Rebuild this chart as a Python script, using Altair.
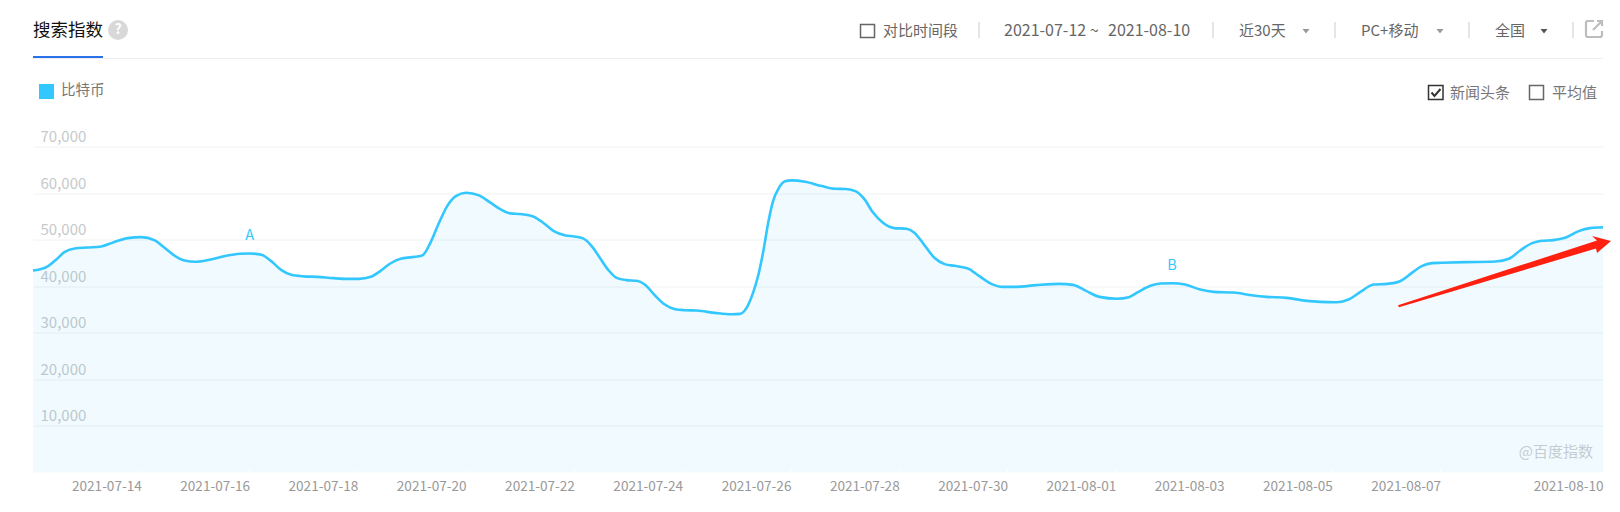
import altair as alt
import pandas as pd

# Curve: days since 2021-07-12 and the value read there
trace_days = [0, .12, .28, .43, .58, .77, 1, 1.26, 1.48, 1.75, 2, 2.25, 2.43, 2.62, 2.8, 3, 3.26, 3.57, 3.82, 4,
              4.22, 4.4, 4.59, 4.77, 5, 5.25, 5.55, 5.8, 6.02, 6.24, 6.42, 6.6, 6.79, 7, 7.19, 7.34, 7.5, 7.65, 7.81, 8,
              8.24, 8.45, 8.64, 8.82, 9, 9.25, 9.44, 9.62, 9.84, 10, 10.16, 10.32, 10.47, 10.63, 10.78, 10.96, 11.15, 11.3, 11.49, 11.67,
              11.86, 12.04, 12.26, 12.6, 12.9, 13.06, 13.18, 13.3, 13.4, 13.49, 13.58, 13.67, 13.77, 13.89, 14.01, 14.26, 14.57, 14.81, 15.01, 15.2,
              15.36, 15.51, 15.7, 15.91, 16.13, 16.28, 16.47, 16.65, 16.84, 17.02, 17.27, 17.48, 17.7, 17.91, 18.16, 18.53, 18.96, 19.21, 19.45, 19.7,
              20.02, 20.24, 20.42, 20.64, 20.82, 21.04, 21.28, 21.56, 21.81, 22.18, 22.54, 22.79, 23.16, 23.53, 23.78, 24.08, 24.3, 24.52, 24.76, 25.01,
              25.25, 25.47, 25.65, 25.84, 26.02, 26.45, 27.01, 27.26, 27.47, 27.69, 27.87, 28.08, 28.3, 28.55, 28.76, 29]
trace_values = [43380, 43590, 44300, 45740, 47320, 48100, 48320, 48540, 49400, 50330, 50540, 49830, 48250, 46530, 45520, 45240, 45670, 46530, 46960, 47030,
                46740, 45380, 43450, 42440, 42120, 42015, 41730, 41585, 41585, 42015, 43305, 44880, 45885, 46245, 46600, 49325, 53625, 57210, 59360, 60080,
                59505, 57930, 56490, 55635, 55490, 54920, 53480, 51835, 50900, 50690, 50260, 48610, 46100, 43450, 41800, 41300, 41155, 40365, 38000, 36065,
                35060, 34850, 34775, 34270, 33985, 34060, 35350, 38575, 42515, 47535, 53630, 58285, 60940, 62515, 62730, 62445, 61510, 60940, 60870, 60365,
                58645, 55920, 53630, 52480, 52340, 51480, 48755, 46100, 44740, 44380, 43810, 42160, 40510, 39865, 39865, 40225, 40510, 40295, 39005, 37715,
                37320, 37640, 38790, 40080, 40580, 40650, 40365, 39290, 38790, 38645, 38000, 37715, 37500, 36850, 36640, 36565, 37140, 38790, 40365, 40507,
                41080, 42870, 44310, 44950, 45025, 45165, 45310, 45880, 47675, 49250, 49755, 49900, 50400, 51830, 52480, 52650]
x_ticks = [2, 4, 6, 8, 10, 12, 14, 16, 18, 20, 22, 24, 26, 29]
y_ticks = [10000, 20000, 30000, 40000, 50000, 60000, 70000]
notes = ["A", "B"]
note_days = [4, 21.04]
note_values = [47030, 40650]

FONT = "Noto Sans CJK SC"
BLUE = "#33c7ff"
OX, OY = 33, 146.5  # page position of the plot's top-left corner

df = pd.DataFrame({"day": trace_days, "value": trace_values})
notes_df = pd.DataFrame({"day": note_days, "value": note_values, "note": notes})
notch_df = pd.DataFrame({"day": x_ticks[:-1]})
one = pd.DataFrame({"k": [0]})
base_ms = int(pd.Timestamp("2021-07-12", tz="UTC").timestamp() * 1000)

x_enc = alt.X(
    "day:Q",
    title=None,
    scale=alt.Scale(domain=[0, 29], nice=False, zero=False),
    axis=alt.Axis(
        values=x_ticks, labelAngle=0, labelAlign="right", labelBaseline="middle",
        labelExpr=f"utcFormat({base_ms} + datum.value * 86400000, '%Y-%m-%d')",
        labelColor="#999999", labelFontSize=13.6, labelFont=FONT, labelPadding=14,
        labelOverlap=False, labelBound=False, labelFlush=False,
        domain=False, ticks=False, grid=False,
    ),
)
y_enc = alt.Y(
    "value:Q",
    title=None,
    scale=alt.Scale(domain=[0, 70000], nice=False),
    axis=alt.Axis(
        values=y_ticks, format=",d", orient="left", labelAlign="left",
        labelBaseline="bottom", labelPadding=-7, labelOffset=-2,
        labelColor="#c6c9ca", labelFontSize=15, labelFont=FONT,
        domain=False, ticks=False, grid=True, gridColor="#f0f2f3", gridWidth=1,
    ),
)


def px(x, y):
    return {"x": alt.value(x - OX), "y": alt.value(y - OY)}


def label(s, x, y, size=14, color="#666666", align="left", weight="normal"):
    return alt.Chart(one).mark_text(
        font=FONT, fontSize=size, color=color, align=align, baseline="middle",
        fontWeight=weight,
    ).encode(text=alt.value(s), **px(x, y))


def box(x0, y0, x1, y1, fill=None, stroke=None, sw=1.5, radius=0):
    kw = dict(cornerRadius=radius)
    kw["fill"] = fill if fill else "transparent"
    if stroke:
        kw["stroke"] = stroke
        kw["strokeWidth"] = sw
    return alt.Chart(one).mark_rect(**kw).encode(
        x=alt.value(x0 - OX), x2=alt.value(x1 - OX),
        y=alt.value(y0 - OY), y2=alt.value(y1 - OY),
    )


def shape(path, x, y, fill=None, stroke=None, sw=1.5):
    kw = dict(shape=path, size=4, filled=bool(fill), opacity=1)
    if fill:
        kw["fill"] = fill
        kw["strokeWidth"] = 0
    if stroke:
        kw["stroke"] = stroke
        kw["strokeWidth"] = sw
    return alt.Chart(one).mark_point(**kw).encode(**px(x, y))


area = alt.Chart(df).mark_area(interpolate="monotone", color=BLUE, opacity=0.07).encode(x=x_enc, y=y_enc)
line = alt.Chart(df).mark_line(interpolate="monotone", color=BLUE, strokeWidth=2.6).encode(x=x_enc, y=y_enc)
notches = alt.Chart(notch_df).mark_rule(color="#ffffff", strokeWidth=1).encode(
    x=x_enc, y=alt.value(323), y2=alt.value(326)
)
note_marks = alt.Chart(notes_df).mark_text(
    font=FONT, fontSize=14.5, color=BLUE, dy=-17
).encode(x=x_enc, y=y_enc, text="note:N")

tri = "M -3.5 -2 L 3.5 -2 L 0 2.5 Z"
check = "M -4.5 0 L -1.5 3.5 L 4.5 -3.5"
icon = "M 0 -8 L -6 -8 Q -8 -8 -8 -6 L -8 6 Q -8 8 -6 8 L 6 8 Q 8 8 8 6 L 8 2 M -1 1 L 7.5 -7.5 M 3 -8 L 8 -8 L 8 -3"
arrow = "M -213 64.3 L -14 -0.5 L -19 -5 L 0 0 L -14 12 L -15 7.5 L -212 66.3 Z"

layers = [
    area, line, notches, note_marks,
    # tab header
    label("搜索指数", 33, 31, size=17.5, color="#111111"),
    alt.Chart(one).mark_point(filled=True, color="#d8d8d8", size=400, opacity=1, shape="circle").encode(**px(118, 30)),
    label("?", 118, 30, size=14, color="#ffffff", align="center", weight="bold"),
    box(33, 58, 1603, 59, fill="#eeeeee"),
    box(33, 56, 103, 58, fill="#2b72ea"),
    # toolbar
    box(860.5, 24.5, 874.5, 37.5, stroke="#666666"),
    label("对比时间段", 883, 31, size=15),
    box(978, 22, 980, 38, fill="#e2e5ea"),
    label("2021-07-12 ~", 1004, 31, size=16),
    label("2021-08-10", 1108, 31, size=16),
    box(1212, 22, 1214, 38, fill="#e2e5ea"),
    label("近30天", 1239, 31, size=15),
    shape(tri, 1306, 31, fill="#999999"),
    box(1334, 22, 1336, 38, fill="#e2e5ea"),
    label("PC+移动", 1361, 31, size=15),
    shape(tri, 1440, 31, fill="#999999"),
    box(1468, 22, 1470, 38, fill="#e2e5ea"),
    label("全国", 1495, 31, size=15),
    shape(tri, 1544, 31, fill="#555555"),
    box(1572, 22, 1574, 38, fill="#e2e5ea"),
    shape(icon, 1594, 29, stroke="#bdbdbd", sw=2.2),
    # legend
    box(39, 84, 54, 99, fill=BLUE),
    label("比特币", 61, 91, size=14.5, color="#777777"),
    box(1428.5, 85.5, 1443, 99.5, stroke="#333333"),
    shape(check, 1436, 92.5, stroke="#333333", sw=2),
    label("新闻头条", 1450, 93, size=15, color="#777777"),
    box(1529.5, 85.5, 1543.5, 99.5, stroke="#666666"),
    label("平均值", 1552, 93, size=15, color="#777777"),
    # watermark and arrow
    label("@百度指数", 1593, 452, size=15, color="#c5ccd0", align="right"),
    shape(arrow, 1611, 241, fill="#ff2010"),
]

chart = alt.layer(*layers).properties(
    width=1570,
    height=326,
    padding={"left": 25, "top": 138.5, "right": 9, "bottom": 30},
    autosize=alt.AutoSizeParams(type="none"),
    background="#ffffff",
).configure_view(stroke=None)

chart.save("out.html", embed_options={"renderer": "svg", "actions": False})
